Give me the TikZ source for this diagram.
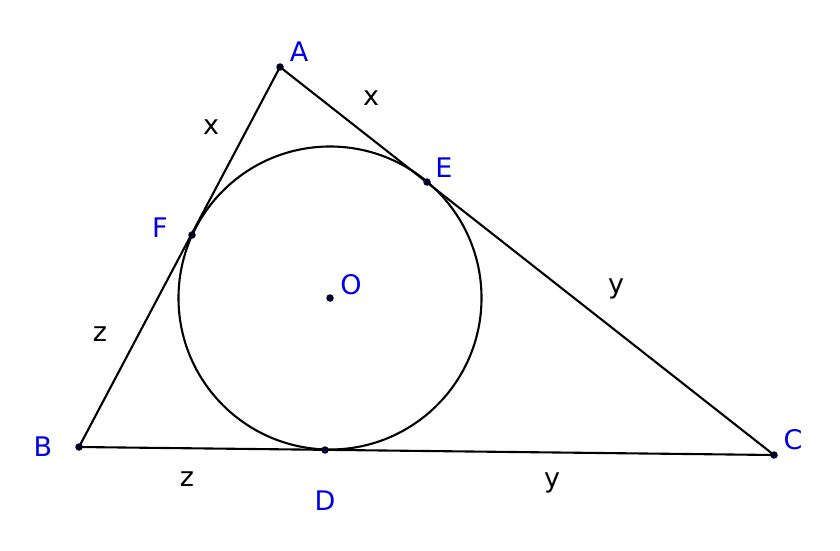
\documentclass[tikz,border=0pt]{standalone}
\usepackage{fontspec}
\setmainfont{DejaVu Sans}
\begin{document}
\begin{tikzpicture}[x=1pt,y=-1pt,
  side/.style={draw=black,line width=2.1pt},
  pt/.style={circle,fill=black!85!blue,inner sep=0pt,minimum size=7.5pt},
  lbl/.style={text=blue!90!black,font=\fontsize{27}{30}\selectfont,inner sep=0pt},
  len/.style={text=black,font=\fontsize{27}{30}\selectfont,inner sep=0pt}]
\useasboundingbox[fill=white] (0,0) rectangle (840,551);
\coordinate (Ac) at (280,67);
\coordinate (Bc) at (79,447);
\coordinate (Cc) at (774,455);
\coordinate (Oc) at (330,298);
\draw[side] (Ac) -- (Bc) -- (Cc) -- cycle;
\draw[side] (Oc) circle[radius=151.5];
\node[pt] (A) at (Ac) {};
\node[pt] (B) at (Bc) {};
\node[pt] (C) at (Cc) {};
\node[pt] (D) at (325,450) {};
\node[pt] (E) at (427,182) {};
\node[pt] (F) at (192,235) {};
\node[pt] (O) at (Oc) {};
\node[lbl] at (299,52) {A};
\node[lbl] at (43,447) {B};
\node[lbl] at (793,440) {C};
\node[lbl] at (325,501) {D};
\node[lbl] at (444,168) {E};
\node[lbl] at (160,228) {F};
\node[lbl] at (351,285) {O};
\node[len] at (211,127) {x};
\node[len] at (371,98) {x};
\node[len] at (616,289) {y};
\node[len] at (552,483) {y};
\node[len] at (100,334) {z};
\node[len] at (187,479) {z};
\end{tikzpicture}
\end{document}
